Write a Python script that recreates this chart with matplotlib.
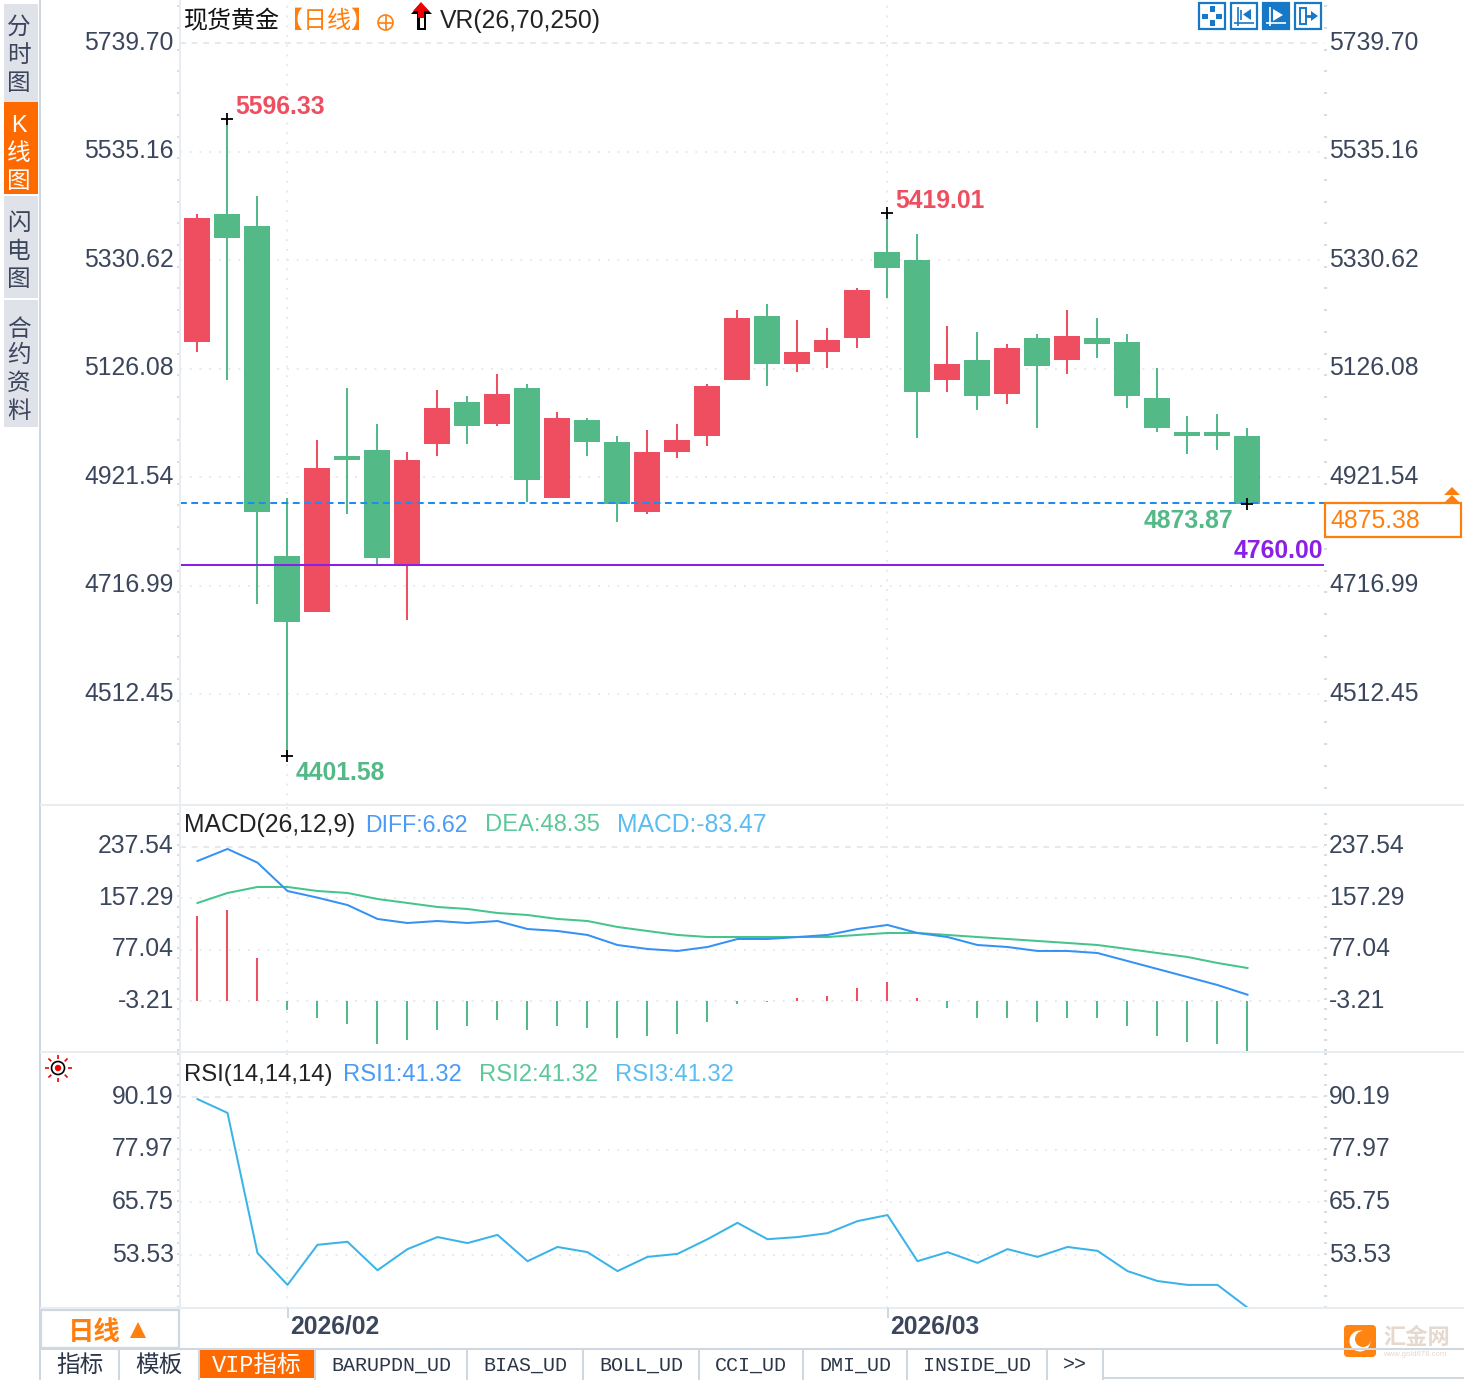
import math
import matplotlib
matplotlib.use("Agg")
import matplotlib.pyplot as plt
from matplotlib.patches import Rectangle, Polygon, Circle, FancyBboxPatch
from matplotlib.ticker import MultipleLocator
from matplotlib.transforms import ScaledTranslation

plt.rcParams['font.family'] = ['Liberation Sans', 'Noto Sans CJK SC', 'DejaVu Sans']

# ---------- data ----------
opens = [5176.1,5417.0,5394.8,4772.7,4667.2,4961.2,4972.5,4753.9,4983.9,5063.0,5021.6,5089.4,4882.1,5029.1,4987.6,4855.7,
         4968.8,4998.9,5104.5,5225.1,5134.7,5157.3,5183.7,5345.8,5330.7,5104.5,5142.2,5078.1,5183.7,5142.2,5183.7,5176.1,
         5070.6,5006.5,5006.5,4999.0]
closes = [5409.8,5372.0,4855.7,4648.3,4938.6,4953.7,4769.0,4953.7,5051.7,5017.8,5078.1,4916.0,5032.9,4987.6,4870.8,4968.8,
          4991.4,5093.2,5221.4,5134.7,5157.3,5179.9,5274.2,5315.6,5081.9,5134.7,5074.3,5164.8,5130.9,5187.4,5172.4,5074.3,
          5014.0,4999.0,4999.0,4871.0]
highs = [5417.4,5596.33,5451.3,4882.1,4991.4,5089.4,5021.6,4968.8,5085.7,5074.3,5115.8,5097.0,5044.2,5032.9,4998.9,5010.2,
         5021.6,5097.0,5236.5,5247.8,5217.6,5202.5,5277.9,5419.01,5379.7,5206.3,5195.0,5172.4,5191.2,5236.5,5221.4,5191.2,
         5127.1,5036.6,5040.4,5014.0]
lows = [5157.2,5104.5,4682.3,4395.7,4667.2,4851.9,4757.7,4652.1,4961.2,4983.9,5017.8,4874.5,4882.1,4961.2,4836.8,4851.9,
        4957.5,4980.1,5104.5,5093.2,5119.6,5127.1,5164.8,5259.1,4995.2,5081.9,5047.9,5059.3,5014.0,5115.8,5146.0,5051.7,
        5006.5,4965.0,4972.5,4870.0]
last_price_line = 4872.6
support_line = 4756.4
price_ticks = [5739.70,5535.16,5330.62,5126.08,4921.54,4716.99,4512.45]

macd_hist = [129.6,139.0,64.0,-17.3,-29.8,-39.2,-70.4,-64.2,-48.5,-42.3,-32.9,-48.5,-42.3,-45.4,-61.0,-57.9,-54.8,-36.0,
             -7.9,-4.8,1.5,4.6,17.1,26.5,1.5,-14.1,-29.8,-29.8,-36.0,-29.8,-29.8,-42.3,-57.9,-67.3,-70.4,-83.47]
diff = [215.6,234.4,213.0,168.7,158.3,146.8,125.0,118.7,121.8,118.7,121.8,109.3,106.2,100.0,84.3,78.1,75.0,81.2,
        93.7,93.7,96.8,100.0,109.3,115.6,103.1,96.8,84.3,81.2,75.0,75.0,71.8,59.3,46.8,34.3,21.8,6.62]
dea = [150.0,165.6,175.0,175.0,168.7,165.6,156.2,150.0,143.7,140.6,134.3,131.2,125.0,121.8,112.5,106.2,100.0,96.8,
       96.8,96.8,96.8,96.8,100.0,103.1,103.1,100.0,96.8,93.7,90.6,87.5,84.3,78.1,71.8,65.6,56.2,48.35]
macd_ticks = [237.54,157.29,77.04,-3.21]

rsi = [89.7,86.5,54.0,46.6,55.9,56.6,50.0,54.9,57.7,56.3,58.2,52.1,55.4,54.2,49.8,53.1,53.8,57.2,
       61.0,57.2,57.7,58.6,61.4,62.8,52.1,54.2,51.7,54.9,53.1,55.4,54.5,49.8,47.5,46.6,46.6,41.32]
rsi_ticks = [90.19,77.97,65.75,53.53]
month_idx = [3, 23]
month_labels = ['2026/02', '2026/03']
tab_labels = ['指标','模板','VIP指标','BARUPDN_UD','BIAS_UD','BOLL_UD','CCI_UD','DMI_UD','INSIDE_UD','>>']

# ---------- style ----------
RED = '#EE4E60'; GREEN = '#53B987'; TXT = '#3B465C'; GRID = '#E6EAEE'; LINE = '#E8EDF2'; EDGE = '#CFD8E0'
ORANGE = '#FF7F0E'; FS = 17.8
W, H = 1464, 1380
fig = plt.figure(figsize=(W/100, H/100), dpi=100, facecolor='white')
def mk(t, b):
    return fig.add_axes([180/W, 1-b/H, (1324-180)/W, (b-t)/H])
ax = mk(0, 805); am = mk(805, 1052); ar = mk(1052, 1308)
xs = list(range(len(opens)))
def px_shift(dx, dy):
    return ScaledTranslation(dx/100, dy/100, fig.dpi_scale_trans)
for a, lim, ticks in [(ax,(4303.4,5820.8),price_ticks),(am,(-82.9,303.1),macd_ticks),(ar,(41.24,100.63),rsi_ticks)]:
    a.set_xlim(-0.5833, 37.55); a.set_ylim(*lim)
    for s in a.spines.values(): s.set_visible(False)
    a.set_yticks(ticks); a.set_yticklabels([f'{t:.2f}' for t in ticks])
    a.set_xticks(month_idx); a.set_xticklabels([])
    a.tick_params(axis='y', which='major', length=0, pad=5, labelsize=FS, labelcolor=TXT, labelleft=True, labelright=True)
    a.tick_params(axis='x', length=0)
    a.grid(True, axis='both', color=GRID, lw=1.4, ls=(0, (1, 4)))
    a.set_axisbelow(True)
    a.patch.set_alpha(0)
    for t in a.yaxis.get_major_ticks():
        t.label1.set_transform(t.label1.get_transform() + px_shift(0.7, 3))
        t.label2.set_transform(t.label2.get_transform() + px_shift(-2, 3))
for a, step in [(ax, 40.908), (am, 16.05), (ar, 2.444)]:
    a.yaxis.set_minor_locator(MultipleLocator(step))
    a.tick_params(axis='y', which='minor', left=True, right=True, length=2, width=1.4, color='#D8DEE4')
ax.get_ygridlines()[0].set_linestyle((0, (3, 3)))
am.get_ygridlines()[0].set_linestyle((0, (3, 3)))
ar.get_ygridlines()[0].set_linestyle((0, (3, 3)))

# candles
cols = [RED if c > o else GREEN for o, c in zip(opens, closes)]
ax.vlines(xs, lows, highs, colors=cols, lw=1.45, zorder=3)
ax.bar(xs, [abs(c-o) for o, c in zip(opens, closes)], bottom=[min(o, c) for o, c in zip(opens, closes)],
       width=26/30, color=cols, zorder=4)
# reference lines
ax.axhline(last_price_line, color='#1E8CF0', lw=1.45, ls=(0, (3.4, 2.2)), zorder=5)
ax.axhline(support_line, color='#8B1FE8', lw=1.45, zorder=5)
# extremes
for i, v in [(1, highs[1]), (3, lows[3]), (23, highs[23]), (35, lows[35])]:
    ax.plot([i], [v], marker='+', ms=9, mew=1.3, color='black', zorder=6)
kw = dict(fontsize=FS, xycoords='data', textcoords='offset pixels', va='center', fontweight='bold')
ax.annotate('5596.33', (1, highs[1]), xytext=(8, 12), color=RED, ha='left', **kw)
ax.annotate('5419.01', (23, highs[23]), xytext=(8, 12), color=RED, ha='left', **kw)
ax.annotate('4401.58', (3, lows[3]), xytext=(8, -17), color=GREEN, ha='left', **kw)
ax.annotate('4873.87', (35, lows[35]), xytext=(-14, -17), color=GREEN, ha='right', **kw)
ax.annotate('4760.00', (37.55, support_line), xytext=(-1, 14), color='#8B1FE8', ha='right', **kw)

# MACD
base = macd_ticks[-1]
am.vlines(xs, base, macd_hist, colors=[RED if v > base else GREEN for v in macd_hist], lw=1.45, zorder=3)
am.plot(xs, dea, color='#45C48C', lw=1.45, zorder=4)
am.plot(xs, diff, color='#3592F5', lw=1.45, zorder=5)

# RSI
ar.plot(xs, rsi, color='#3AB4E8', lw=1.45, zorder=4)

# ---------- chrome overlay in pixel coordinates ----------
ov = fig.add_axes([0, 0, 1, 1], zorder=10)
ov.set_xlim(0, W); ov.set_ylim(H, 0); ov.axis('off'); ov.patch.set_alpha(0)
def T(x, y, s, c=TXT, fs=FS, ha='left', va='center', **k):
    ov.text(x, y + 2, s, color=c, fontsize=fs, ha=ha, va=va, **k)
def L(x, y, c=LINE, lw=1.45, **k):
    ov.plot(x, y, color=c, lw=lw, solid_capstyle='butt', **k)
# frame lines
L([40, 40], [0, 1380], c=EDGE)
L([180, 180], [0, 805]); L([180, 180], [805, 1308])
for yy in (805, 1052, 1308):
    L([40, W], [yy, yy])
# sidebar
for y0, y1, fc in [(4,102,'#E0E2EA'),(102,194,'#FF6A00'),(196,298,'#E0E2EA'),(300,427,'#E0E2EA')]:
    ov.add_patch(Rectangle((4, y0), 34, y1-y0, fc=fc, ec='none'))
for ch, y, c in [('分',26,TXT),('时',54,TXT),('图',82,TXT),('K',124,'white'),('线',152,'white'),('图',180,'white'),
                 ('闪',222,TXT),('电',250,TXT),('图',278,TXT),('合',328,TXT),('约',354,TXT),('资',382,TXT),('料',410,TXT)]:
    T(19, y, ch, c=c, fs=17, ha='center')
# title row
T(184, 20, '现货黄金', c='#111111', fs=17.3)
T(279, 20, '【日线】', c=ORANGE, fs=17.3)
ov.add_patch(Circle((385.5, 22.5), 7.5, fc='none', ec=ORANGE, lw=1.2))
L([378, 393], [22.5, 22.5], c=ORANGE, lw=1.2); L([385.5, 385.5], [15, 30], c=ORANGE, lw=1.2)
ov.add_patch(Polygon([(421,3),(432,14),(426,14),(426,30),(417,30),(417,14),(411,14)], fc='black', ec='none'))
ov.add_patch(Rectangle((419.5, 18), 4.5, 10, fc='white', ec='none'))
ov.add_patch(Polygon([(421,2),(429,11),(424,11),(424,18),(418,18),(418,11),(413,11)], fc='#F00000', ec='none'))
T(440, 19, 'VR(26,70,250)', c='#222222')
# toolbar icons
BL = '#1878C8'
for i, x0 in enumerate((1199, 1231, 1263, 1295)):
    ov.add_patch(Rectangle((x0, 3), 26, 26, fc=BL if i == 2 else 'white', ec=BL, lw=1.6))
ov.add_patch(Rectangle((1209.5, 6), 5, 6, fc=BL, ec='none'))
ov.add_patch(Rectangle((1209.5, 20), 5, 6, fc=BL, ec='none'))
ov.add_patch(Rectangle((1202, 13.5), 6, 5, fc=BL, ec='none'))
ov.add_patch(Rectangle((1216, 13.5), 6, 5, fc=BL, ec='none'))
for x0, c in [(1231, BL), (1263, 'white')]:
    L([x0+7, x0+7], [7, 26], c=c, lw=1.2); L([x0+3, x0+23], [23, 23], c=c, lw=1.2)
ov.add_patch(Polygon([(1251,9),(1251,20),(1243,14.5)], fc=BL, ec='none'))
L([1241, 1241], [10, 20], c=BL, lw=1.2)
ov.add_patch(Polygon([(1273,9),(1273,21),(1283,15)], fc='white', ec='none'))
ov.add_patch(Rectangle((1300, 8), 6, 16, fc='white', ec=BL, lw=1.4))
L([1306, 1312], [16, 16], c=BL, lw=2)
ov.add_patch(Polygon([(1311,11),(1311,21),(1318,16)], fc=BL, ec='none'))
# price tag
ov.add_patch(Rectangle((1325, 503), 136, 34, fc='white', ec=ORANGE, lw=1.6))
T(1330, 519, '4875.38', c=ORANGE)
for y0 in (487, 495):
    ov.add_patch(Polygon([(1452, y0), (1460, y0+8), (1444, y0+8)], fc=ORANGE, ec='none'))
# indicator headers
for x, s, c, fs in [(184,'MACD(26,12,9)','#222222',FS),(365,'DIFF:6.62','#4A9BF5',16.7),(485,'DEA:48.35','#5CC79A',17.1),(617,'MACD:-83.47','#5ABCF0',FS)]:
    T(x, 823, s, c=c, fs=fs)
for x, s, c, fs in [(184,'RSI(14,14,14)','#222222',17.2),(343,'RSI1:41.32','#4A9BF5',17.1),(479,'RSI2:41.32','#5CC79A',17.1),(615,'RSI3:41.32','#5ABCF0',17.1)]:
    T(x, 1073, s, c=c, fs=fs)
# sun icon
ov.add_patch(Circle((58, 1068), 6.5, fc='white', ec='black', lw=1.2))
ov.add_patch(Circle((58, 1068), 3.2, fc='#F00000', ec='none'))
for k in range(8):
    a = k*math.pi/4
    L([58+9.5*math.cos(a), 58+13.5*math.cos(a)], [1068+9.5*math.sin(a), 1068+13.5*math.sin(a)], c='#F00000', lw=1.2)
# bottom left box
ov.add_patch(Rectangle((41, 1310), 138, 38, fc='white', ec=EDGE, lw=1.6))
T(68, 1331, '日线', c=ORANGE, fs=19, fontweight='bold')
ov.add_patch(Polygon([(138, 1322), (146, 1338), (130, 1338)], fc=ORANGE, ec='none'))
# month labels
for i, s in zip(month_idx, month_labels):
    px = 197.5 + 30*i
    L([px, px], [1308, 1318], c=EDGE)
    T(px+3, 1325, s, c=TXT, fontweight='bold', fs=17.7)
# tabs
edges = [40,119,199,315,467,583,699,803,907,1047,1103]
L([40, W], [1349, 1349], c=EDGE)
L([1103, W], [1378, 1378], c=EDGE)
for x in edges[1:]:
    L([x, x], [1349, 1380], c=EDGE)
ov.add_patch(Rectangle((200, 1349), 114, 29, fc='#FF6A00', ec='none'))
for j, s in enumerate(tab_labels):
    cx = (edges[j]+edges[j+1])/2
    c = 'white' if j == 2 else '#2B3648'
    T(cx, 1363, s, c=c, fs=14.4 if j > 2 else 17, ha='center',
      family=['Liberation Mono', 'Noto Sans CJK SC'] if j >= 2 else ['Noto Sans CJK SC'])
# logo
ov.add_patch(FancyBboxPatch((1346, 1327), 28, 28, boxstyle='round,pad=2,rounding_size=4', fc='#FF8412', ec='none'))
ov.add_patch(Circle((1360, 1341), 10.5, fc='white', ec='none'))
ov.add_patch(Circle((1363, 1339), 8, fc='#FF8412', ec='none'))
T(1383, 1336, '汇金网', c='#E6D8CC', fs=16, fontweight='bold')
T(1383, 1352, 'www.gold678.com', c='#E6D8CC', fs=5.6)

fig.savefig('out.png', dpi=100)
